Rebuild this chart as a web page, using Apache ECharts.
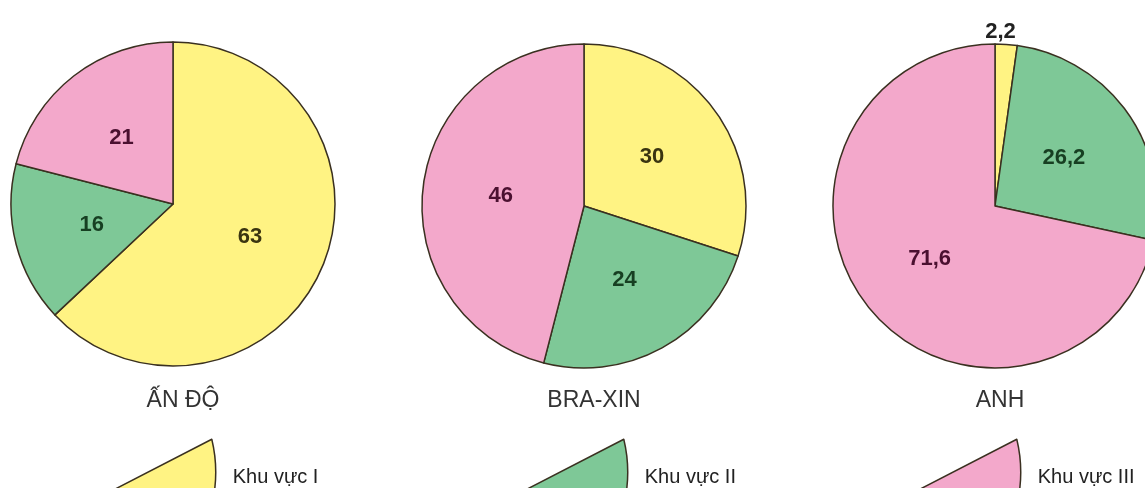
<!DOCTYPE html>
<html>
<head>
<meta charset="utf-8">
<script src="https://cdn.jsdelivr.net/npm/echarts@6/dist/echarts.min.js"></script>
<style>
  html, body { margin: 0; padding: 0; background: #fff; }
  #chart { width: 1145px; height: 488px; }
</style>
</head>
<body>
<div id="chart"></div>
<script>
// co cau lao dong theo khu vuc kinh te (%)
const sectors = ['Khu vực I', 'Khu vực II', 'Khu vực III'];
const countries = ['ẤN ĐỘ', 'BRA-XIN', 'ANH'];
const anDo = [63, 16, 21];
const braXin = [30, 24, 46];
const anh = [2.2, 26.2, 71.6];

const fills = ['#fff383', '#7ec897', '#f3a8cb'];
const labelColors = ['#3a3410', '#173f22', '#4a1030'];
const border = '#3a3020';
const centers = [[173, 204], [584, 206], [995, 206]];
const legendLeft = [115, 527, 920];

let chart = echarts.init(document.getElementById('chart'));

function makePie(values, idx) {
    return {
        type: 'pie',
        name: countries[idx],
        center: centers[idx],
        radius: [0, 162],
        startAngle: 90,
        clockwise: true,
        avoidLabelOverlap: false,
        animation: false,
        labelLine: { show: false, length: 0, length2: 0 },
        label: {
            show: true,
            position: 'inside',
            fontFamily: 'Liberation Sans, Arial, sans-serif',
            fontWeight: 'bold',
            fontSize: 22,
            formatter: (p) => String(p.value).replace('.', ',')
        },
        itemStyle: { borderColor: border, borderWidth: 1.5 },
        emphasis: { disabled: true },
        data: values.map((v, i) => {
            let item = {
                name: sectors[i],
                value: v,
                itemStyle: { color: fills[i] },
                label: { color: labelColors[i] }
            };
            // lat nho qua thi ghi ra ngoai
            if (v < 5) {
                item.label = { position: 'outside', color: '#222', distanceToLabelLine: 0, offset: [-21, -12] };
            }
            return item;
        })
    };
}

let options = {
    backgroundColor: '#fff',
    title: countries.map((c, i) => ({
        text: c,
        left: [183, 594, 1000][i],
        top: 389,
        textAlign: 'center',
        padding: 0,
        textStyle: {
            fontFamily: 'Liberation Sans, Arial, sans-serif',
            fontWeight: 'normal',
            fontSize: 23,
            color: '#333'
        }
    })),
    legend: sectors.map((s, i) => ({
        data: [s],
        left: legendLeft[i],
        top: 438,
        padding: 0,
        selectedMode: false,
        itemWidth: 100,
        itemHeight: 52,
        icon: 'path://M0,50 L97,0 Q103,25 100,50 Z',
        itemStyle: { borderColor: border, borderWidth: 1.5 },
        formatter: '\n{name}',
        textStyle: {
            fontFamily: 'Liberation Sans, Arial, sans-serif',
            fontSize: 20,
            lineHeight: 26,
            color: '#222',
            padding: [0, 0, 0, 12]
        }
    })),
    series: [makePie(anDo, 0), makePie(braXin, 1), makePie(anh, 2)]
};

chart.setOption(options);
</script>
</body>
</html>
